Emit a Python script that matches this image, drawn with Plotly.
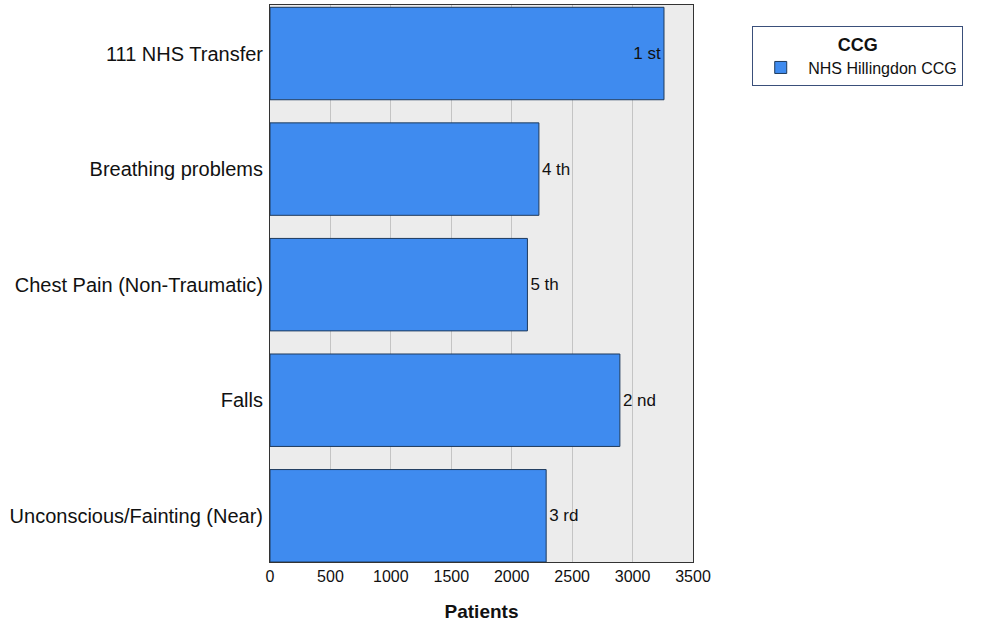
import plotly.graph_objects as go

# Call categories (top to bottom), patient counts and rank labels
categories = [
    "111 NHS Transfer",
    "Breathing problems",
    "Chest Pain (Non-Traumatic)",
    "Falls",
    "Unconscious/Fainting (Near)",
]
patients = [3260, 2225, 2130, 2895, 2285]
ranks = ["1 st", "4 th", "5 th", "2 nd", "3 rd"]
x_ticks = [0, 500, 1000, 1500, 2000, 2500, 3000, 3500]

font_family = "Liberation Sans, Arial, sans-serif"

# rank label sits inside the bar when it would run past the axis end
label_pos = ["inside" if v > 3200 else "outside" for v in patients]

fig = go.Figure()
fig.add_trace(go.Bar(
    x=patients,
    y=categories,
    orientation="h",
    name="NHS Hillingdon CCG",
    text=ranks,
    textposition=label_pos,
    insidetextanchor="end",
    textfont=dict(color="#111111", size=17, family=font_family),
    insidetextfont=dict(color="#111111", size=17, family=font_family),
    outsidetextfont=dict(color="#111111", size=17, family=font_family),
    constraintext="none",
    cliponaxis=False,
    marker=dict(color="#3f8bef", line=dict(color="#1e3a5c", width=1)),
    width=0.8,
))

fig.update_layout(
    width=981,
    height=625,
    margin=dict(l=270, r=288, t=5, b=63),
    paper_bgcolor="white",
    plot_bgcolor="#ececec",
    font=dict(family=font_family, color="#111111"),
    showlegend=True,
    legend=dict(
        title=dict(text="<b>CCG</b>", side="top center",
                   font=dict(size=18, family=font_family)),
        x=1.14, y=0.962, xanchor="left", yanchor="top",
        bgcolor="white",
        bordercolor="#3a4f7a",
        borderwidth=1,
        font=dict(size=16, family=font_family),
        itemwidth=45,
    ),
    xaxis=dict(
        range=[0, 3500],
        tickvals=x_ticks,
        ticktext=[str(v) for v in x_ticks],
        tickfont=dict(size=16),
        showgrid=True,
        gridcolor="#c4c4c4",
        gridwidth=1,
        zeroline=False,
        showline=True,
        linecolor="#333333",
        linewidth=1,
        mirror=True,
        ticks="",
        ticklen=0,
        title=dict(text="<b>Patients</b>", font=dict(size=19), standoff=20),
    ),
    yaxis=dict(
        categoryorder="array",
        categoryarray=categories,
        range=[4.4, -0.42],
        tickfont=dict(size=20),
        showgrid=False,
        showline=True,
        linecolor="#333333",
        linewidth=1,
        mirror=True,
        ticks="",
        ticklen=0,
        ticklabelstandoff=2,
    ),
)

fig.write_html("out.html")
